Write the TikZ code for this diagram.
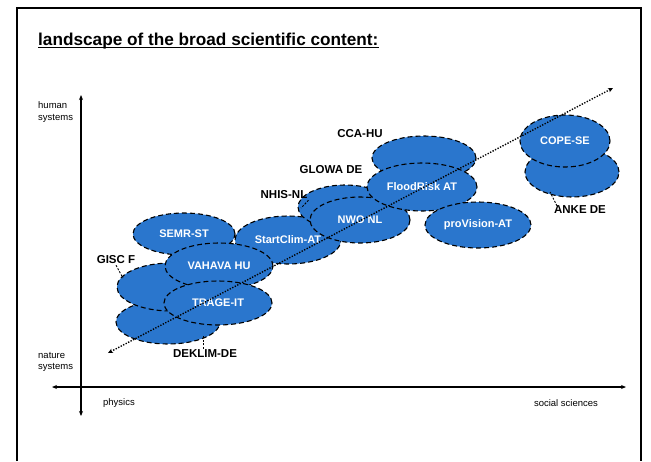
\documentclass[tikz,border=0pt]{standalone}
\usepackage{fontspec}
\setmainfont{Liberation Sans}
\usetikzlibrary{shapes.geometric,arrows.meta}
\definecolor{blobblue}{RGB}{42,118,205}
\begin{document}
\begin{tikzpicture}[x=1pt,y=-1pt,
  blob/.style={ellipse, fill=blobblue, draw=black, dash pattern=on 5pt off 3pt,
    line width=1.1pt, inner sep=0pt, text=white, font=\bfseries\fontsize{11}{12}\selectfont},
  lab/.style={font=\bfseries\fontsize{11.5}{12}\selectfont, inner sep=1pt},
  axlab/.style={font=\fontsize{9.5}{11.5}\selectfont, align=left, inner sep=0pt},
  leader/.style={draw, dash pattern=on 2pt off 1.5pt, line width=0.9pt},
  axis/.style={line width=1.2pt, {Stealth[length=5pt,width=4pt]}-{Stealth[length=5pt,width=4pt]}},
  dotline/.style={line width=1.4pt, dash pattern=on 1.3pt off 1.5pt,
    {Stealth[length=5pt,width=4.5pt]}-{Stealth[length=5pt,width=4.5pt]}}
]
\useasboundingbox (0,0) rectangle (651,461);
\draw[line width=1.2pt] (17,461) -- (17,8) -- (641,8) -- (641,461);

% title
\node[anchor=base west, inner sep=0pt, font=\bfseries\fontsize{17.2}{19}\selectfont] (title) at (38,45)
  {landscape of the broad scientific content:};
\draw[line width=1.4pt] ([yshift=-2.5pt]title.base west) -- ([yshift=-2.5pt]title.base east);

% axes
\coordinate (ytop) at (81,95);
\coordinate (ybot) at (81,416);
\coordinate (xl) at (52,387);
\coordinate (xr) at (626,387);
\draw[axis] (ybot) -- (ytop);
\draw[axis] (xl) -- (xr);

\node[axlab, anchor=west] (hum) at (38,112) {human\\systems};
\node[axlab, anchor=west] (nat) at (38,362) {nature\\systems};
\node[axlab] (phys) at (119,403) {physics};
\node[axlab] (soc) at (566,403) {social sciences};

% ellipses (back to front)
\node[blob, minimum width=102pt, minimum height=42pt] (semr) at (184,234) {SEMR-ST};
\node[blob, minimum width=104pt, minimum height=44pt] (dek) at (168,322) {};
\node[blob, minimum width=108pt, minimum height=48pt] (gisc) at (171,287) {};
\node[blob, minimum width=106pt, minimum height=48pt] (start) at (288,240) {StartClim-AT};
\node[blob, minimum width=108pt, minimum height=46pt] (vah) at (219,266) {VAHAVA HU};
\node[blob, minimum width=108pt, minimum height=44pt] (trage) at (218,303) {TRAGE-IT};
\node[blob, minimum width=94pt, minimum height=44pt] (nhis) at (345,207) {};
\node[blob, minimum width=100pt, minimum height=46pt] (nwo) at (360,220) {NWO NL};
\node[blob, minimum width=104pt, minimum height=44pt] (cca) at (424,158) {};
\node[blob, minimum width=110pt, minimum height=48pt] (flood) at (422,187) {FloodRisk AT};
\node[blob, minimum width=106pt, minimum height=46pt] (prov) at (478,225) {proVision-AT};
\node[blob, minimum width=94pt, minimum height=50pt] (anke) at (572,172) {};
\node[blob, minimum width=90pt, minimum height=52pt] (cope) at (565,141) {COPE-SE};

% dotted trend arrow
\coordinate (ds) at (108,353);
\coordinate (de) at (613,88);
\draw[dotline] (ds) -- (de);

% outside labels
\node[lab] (lcca) at (360,134) {CCA-HU};
\node[lab] (lglowa) at (331,170) {GLOWA DE};
\node[lab] (lnhis) at (284,195) {NHIS-NL};
\node[lab] (lgisc) at (116,260) {GISC F};
\node[lab] (ldek) at (205,354) {DEKLIM-DE};
\node[lab] (lanke) at (580,210) {ANKE DE};

\coordinate (pnhis) at (301,208);
\coordinate (pgisc) at (123,278);
\coordinate (pdek) at (203,335);
\coordinate (panke) at (550,192);
\draw[leader] (lnhis.south east) -- (pnhis);
\draw[leader] (lgisc.south) -- (pgisc);
\draw[leader] (ldek.north) ++(-2,0) -- (pdek);
\draw[leader] (lanke.north west) ++(4,1) -- (panke);
\end{tikzpicture}
\end{document}
